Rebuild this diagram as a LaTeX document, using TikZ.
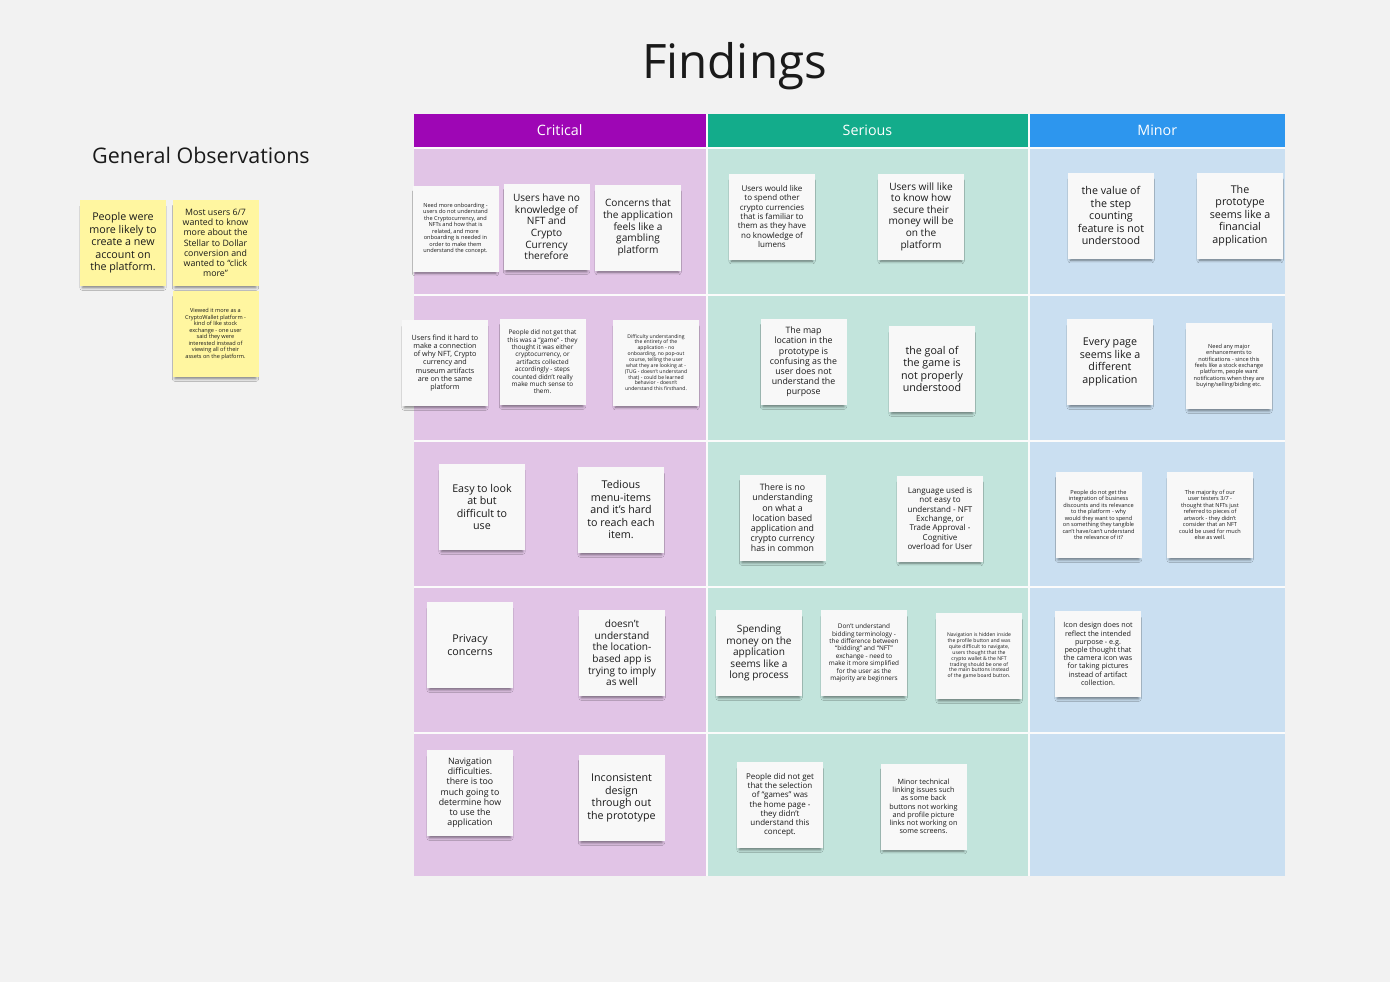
\documentclass[tikz,border=0pt]{standalone}
\usepackage{fontspec}
\setmainfont{Open Sans}
\usetikzlibrary{shadows.blur}
\definecolor{bg}{HTML}{F2F2F2}
\definecolor{critH}{HTML}{9E06B5}
\definecolor{serH}{HTML}{13AC8B}
\definecolor{minH}{HTML}{2D96EE}
\definecolor{critB}{HTML}{E1C4E6}
\definecolor{serB}{HTML}{C2E4DC}
\definecolor{minB}{HTML}{CADFF1}
\definecolor{notew}{HTML}{F8F8F8}
\definecolor{notey}{HTML}{FFF6A0}
\definecolor{ntext}{HTML}{1A1A1A}
\tikzset{
  note/.style={fill=notew, minimum width=86pt, minimum height=86pt, inner sep=0pt,
    align=center, text=ntext,
    blur shadow={shadow xshift=0pt, shadow yshift=-4.5pt, shadow scale=0.94, shadow opacity=50, shadow blur radius=3pt}},
  ynote/.style={note, fill=notey},
  txtXL/.style={font=\fontsize{10.7}{12.5}\selectfont},
  txtL/.style={font=\fontsize{10.1}{11.6}\selectfont},
  txtM/.style={font=\fontsize{8.8}{10.2}\selectfont},
  txtMS/.style={font=\fontsize{8}{9.3}\selectfont},
  txtS/.style={font=\fontsize{7.2}{8.2}\selectfont},
  txtSS/.style={font=\fontsize{6.4}{7.4}\selectfont},
  txtXS/.style={font=\fontsize{5.6}{6.45}\selectfont},
  txtXXS/.style={font=\fontsize{5.1}{5.85}\selectfont},
  hdr/.style={minimum height=33pt, inner sep=0pt, text=white, font=\fontsize{14.3}{16}\selectfont},
}
\begin{document}
\begin{tikzpicture}[x=1pt,y=-1pt]
\fill[bg] (0,0) rectangle (1390,982);
\useasboundingbox (0,0) rectangle (1390,982);

% titles
\node[font=\fontsize{47.5}{54}\selectfont, text=ntext, anchor=base] (title) at (734.5,78) {Findings};
\node[font=\fontsize{21.5}{24}\selectfont, text=ntext, anchor=base] (genobs) at (201,163) {General Observations};

% table backing
\fill[white!70!bg] (414,114) rectangle (1285,876);
% headers
\node[hdr, fill=critH, minimum width=291.5pt] (hC) at (559.75,130.5) {Critical};
\node[hdr, fill=serH, minimum width=320pt] (hS) at (867.5,130.5) {Serious};
\node[hdr, fill=minH, minimum width=255.5pt] (hM) at (1157.25,130.5) {Minor};
% cells
\foreach \ya/\yb in {149/293.5, 295.5/439.5, 441.5/585.5, 587.5/731.5, 733.5/876} {
  \fill[critB] (414,\ya) rectangle (705.5,\yb);
  \fill[serB] (707.5,\ya) rectangle (1027.5,\yb);
  \fill[minB] (1029.5,\ya) rectangle (1285,\yb);
}

% general observations
\node[ynote, txtXL] (g1) at (123,243) {People were\\more likely to\\create a new\\account on\\the platform.};
\node[ynote, txtM] (g2) at (215.5,243) {Most users 6/7\\wanted to know\\more about the\\Stellar to Dollar\\conversion and\\wanted to “click\\more”};
\node[ynote, txtXS] (g3) at (215.5,334) {Viewed it more as a\\CryptoWallet platform -\\kind of like stock\\exchange - one user\\said they were\\interested instead of\\viewing all of their\\assets on the platform.};

% critical
\node[note, txtXS] (c11) at (455.5,228.5) {Need more onboarding -\\users do not understand\\the Cryptocurrency, and\\NFTs and how that is\\related, and more\\onboarding is needed in\\order to make them\\understand the concept.};
\node[note, txtL] (c12) at (546.5,227) {Users have no\\knowledge of\\NFT and\\Crypto\\Currency\\therefore};
\node[note, txtL] (c13) at (638,227.5) {Concerns that\\the application\\feels like a\\gambling\\platform};
\node[note, txtS] (c21) at (445,363) {Users find it hard to\\make a connection\\of why NFT, Crypto\\currency and\\museum artifacts\\are on the same\\platform};
\node[note, txtSS] (c22) at (542.5,362) {People did not get that\\this was a “game” - they\\thought it was either\\cryptocurrency, or\\artifacts collected\\accordingly - steps\\counted didn’t really\\make much sense to\\them.};
\node[note, txtXXS] (c23) at (656,362.5) {Difficulty understanding\\the entirety of the\\application - no\\onboarding, no pop-out\\course, telling the user\\what they are looking at -\\(TUG - doesn’t understand\\that) - could be learned\\behavior - doesn’t\\understand this firsthand.};
\node[note, txtXL] (c31) at (482,507) {Easy to look\\at but\\difficult to\\use};
\node[note, txtXL] (c32) at (621,510) {Tedious\\menu-items\\and it’s hard\\to reach each\\item.};
\node[note, txtXL] (c41) at (470,645) {Privacy\\concerns};
\node[note, txtL] (c42) at (622,653) {doesn’t\\understand\\the location-\\based app is\\trying to imply\\as well};
\node[note, txtM] (c51) at (470,793) {Navigation\\difficulties.\\there is too\\much going to\\determine how\\to use the\\application};
\node[note, txtXL] (c52) at (621.5,798) {Inconsistent\\design\\through out\\the prototype};

% serious
\node[note, txtMS] (s11) at (772,216.5) {Users would like\\to spend other\\crypto currencies\\that is familiar to\\them as they have\\no knowledge of\\lumens};
\node[note, txtL] (s12) at (921,216.5) {Users will like\\to know how\\secure their\\money will be\\on the\\platform};
\node[note, txtM] (s21) at (803.5,362) {The map\\location in the\\prototype is\\confusing as the\\user does not\\understand the\\purpose};
\node[note, txtXL] (s22) at (932,369) {the goal of\\the game is\\not properly\\understood};
\node[note, txtM] (s31) at (782.5,518) {There is no\\understanding\\on what a\\location based\\application and\\crypto currency\\has in common};
\node[note, txtMS] (s32) at (940,518.5) {Language used is\\not easy to\\understand - NFT\\Exchange, or\\Trade Approval -\\Cognitive\\overload for User};
\node[note, txtL] (s41) at (759,653) {Spending\\money on the\\application\\seems like a\\long process};
\node[note, txtSS] (s42) at (864,653) {Don’t understand\\bidding terminology -\\the difference between\\“bidding” and “NFT”\\exchange - need to\\make it more simplified\\for the user as the\\majority are beginners};
\node[note, txtXXS] (s43) at (979,656) {Navigation is hidden inside\\the profile button and was\\quite difficult to navigate,\\users thought that the\\crypto wallet \& the NFT\\trading should be one of\\the main buttons instead\\of the game board button.};
\node[note, txtMS] (s51) at (780,805) {People did not get\\that the selection\\of “games” was\\the home page -\\they didn’t\\understand this\\concept.};
\node[note, txtS] (s52) at (923.5,806.5) {Minor technical\\linking issues such\\as some back\\buttons not working\\and profile picture\\links not working on\\some screens.};

% minor
\node[note, txtXL] (m11) at (1111,215.5) {the value of\\the step\\counting\\feature is not\\understood};
\node[note, txtXL] (m12) at (1240,215.5) {The\\prototype\\seems like a\\financial\\application};
\node[note, txtXL] (m21) at (1110,362) {Every page\\seems like a\\different\\application};
\node[note, txtXS] (m22) at (1229,366) {Need any major\\enhancements to\\notifications - since this\\feels like a stock exchange\\platform, people want\\notifications when they are\\buying/selling/biding etc.};
\node[note, txtXS] (m31) at (1098.5,515) {People do not get the\\integration of business\\discounts and its relevance\\to the platform - why\\would they want to spend\\on something they tangible\\can’t have/can’t understand\\the relevance of it?};
\node[note, txtXS] (m32) at (1210,515) {The majority of our\\user testers 3/7 -\\thought that NFTs just\\referred to pieces of\\artwork - they didn’t\\consider that an NFT\\could be used for much\\else as well.};
\node[note, txtS] (m41) at (1098,654) {Icon design does not\\reflect the intended\\purpose - e.g.\\people thought that\\the camera icon was\\for taking pictures\\instead of artifact\\collection.};
\end{tikzpicture}
\end{document}
